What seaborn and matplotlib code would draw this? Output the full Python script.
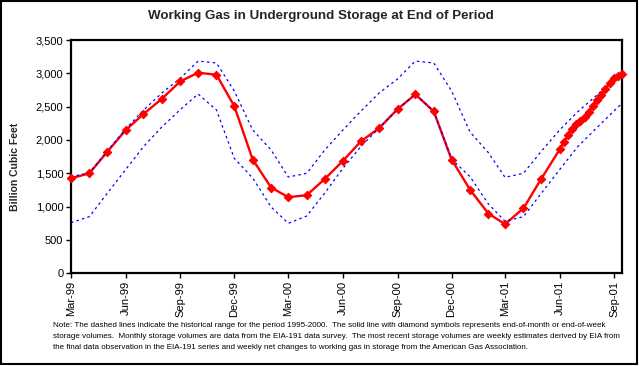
import matplotlib
matplotlib.use("Agg")
import matplotlib.pyplot as plt
import matplotlib.dates as mdates
from matplotlib.patches import Rectangle
from matplotlib.ticker import FuncFormatter
import pandas as pd
import seaborn as sns

# ---------------- data ----------------
monthly_dates = pd.date_range("1999-03-01", "2001-06-01", freq="MS")
monthly_storage = [1425, 1500, 1822, 2148, 2388, 2618, 2879, 3009, 2979, 2508,
                   1707, 1287, 1142, 1172, 1412, 1687, 1978, 2178, 2463, 2684,
                   2428, 1707, 1255, 896, 738, 975, 1417, 1858]
weekly_dates = pd.date_range("2001-06-08", periods=15, freq="7D")
weekly_storage = [1970, 2068, 2163, 2243, 2288, 2348, 2425, 2508, 2593, 2674,
                  2759, 2849, 2929, 2962, 2989]

hist_dates = pd.date_range("1999-03-01", "2001-10-01", freq="MS")
hist_max = [1447, 1510, 1830, 2165, 2445, 2705, 2925, 3184, 3155, 2735,
            2150, 1850, 1445, 1500, 1845, 2150, 2430, 2705, 2915, 3184,
            3155, 2735, 2120, 1810, 1440, 1500, 1830, 2150, 2420, 2660,
            2910, 3184]
hist_min = [760, 850, 1200, 1555, 1900, 2195, 2455, 2690, 2450, 1725,
            1430, 995, 750, 860, 1200, 1575, 1900, 2180, 2460, 2686,
            2430, 1712, 1450, 1040, 780, 850, 1200, 1555, 1895, 2170,
            2440, 2690]

title = "Working Gas in Underground Storage at End of Period"
ylabel = "Billion Cubic Feet"
note_lines = [
    "Note: The dashed lines indicate the historical range for the period 1995-2000.  The solid line with diamond symbols represents end-of-month or end-of-week",
    "storage volumes.  Monthly storage volumes are data from the EIA-191 data survey.  The most recent storage volumes are weekly estimates derived by EIA from",
    "the final data observation in the EIA-191 series and weekly net changes to working gas in storage from the American Gas Association.",
]

storage = pd.DataFrame({
    "date": list(monthly_dates) + list(weekly_dates),
    "value": monthly_storage + weekly_storage,
})
hist = pd.DataFrame({"date": hist_dates, "max": hist_max, "min": hist_min})

# ---------------- style ----------------
sns.set_style("white")
plt.rcParams["font.family"] = ["Liberation Sans", "DejaVu Sans"]

W, H = 639, 366
fig = plt.figure(figsize=(W / 100, H / 100), dpi=100)
fig.patch.set_facecolor("white")
L, R, T, B = 71, 622, 40, 273.3
ax = fig.add_axes([L / W, (H - B) / H, (R - L) / W, (B - T) / H])

sns.lineplot(data=storage, x="date", y="value", ax=ax, color="#FF0000",
             lw=1.7, zorder=2)
sns.lineplot(data=hist, x="date", y="max", ax=ax, color="#0000FF", lw=0.9,
             linestyle=(0, (2, 2.6)), zorder=3)
sns.lineplot(data=hist, x="date", y="min", ax=ax, color="#0000FF", lw=0.9,
             linestyle=(0, (2, 2.6)), zorder=3)
sns.scatterplot(data=storage, x="date", y="value", ax=ax, marker="D", s=18,
                color="#FF0000", edgecolor="#FF0000", linewidth=0.8,
                zorder=4, clip_on=False)

ax.set_xlim(pd.Timestamp("1999-03-01"), pd.Timestamp("2001-09-14"))
ax.set_ylim(0, 3500)
ax.set_yticks(range(0, 3501, 500))
ax.yaxis.set_major_formatter(FuncFormatter(lambda v, p: f"{int(v):,}"))
ax.xaxis.set_major_locator(mdates.MonthLocator(bymonth=[3, 6, 9, 12]))
ax.xaxis.set_major_formatter(mdates.DateFormatter("%b-%y"))
ax.set_xlabel("")
ax.set_ylabel("")
ax.grid(False)
for s in ax.spines.values():
    s.set_visible(True)
    s.set_color("black")
    s.set_linewidth(1.6)
ax.tick_params(axis="both", direction="out", length=3.5, width=1,
               color="black", labelsize=8, labelcolor="black", pad=2)
ax.tick_params(axis="x", labelrotation=90)
ax.tick_params(bottom=True, left=True)

fig.text(320.5 / W, 1 - 16 / H, title, ha="center", va="center",
         fontsize=9.6, fontweight="bold")
fig.text(15.5 / W, 1 - 167 / H, ylabel, ha="center", va="center",
         rotation=90, fontsize=7.5, fontweight="bold")
for i, line in enumerate(note_lines):
    fig.text(53 / W, 1 - (325.7 + 10.7 * i) / H, line, ha="left", va="center",
             fontsize=5.8, color="black")

fig.patches.append(Rectangle((0.5 / W, (H - 364) / H), 636.5 / W, 363.5 / H,
                             transform=fig.transFigure, fill=False,
                             ec="black", lw=1.5))

fig.savefig("out.png", dpi=100)
